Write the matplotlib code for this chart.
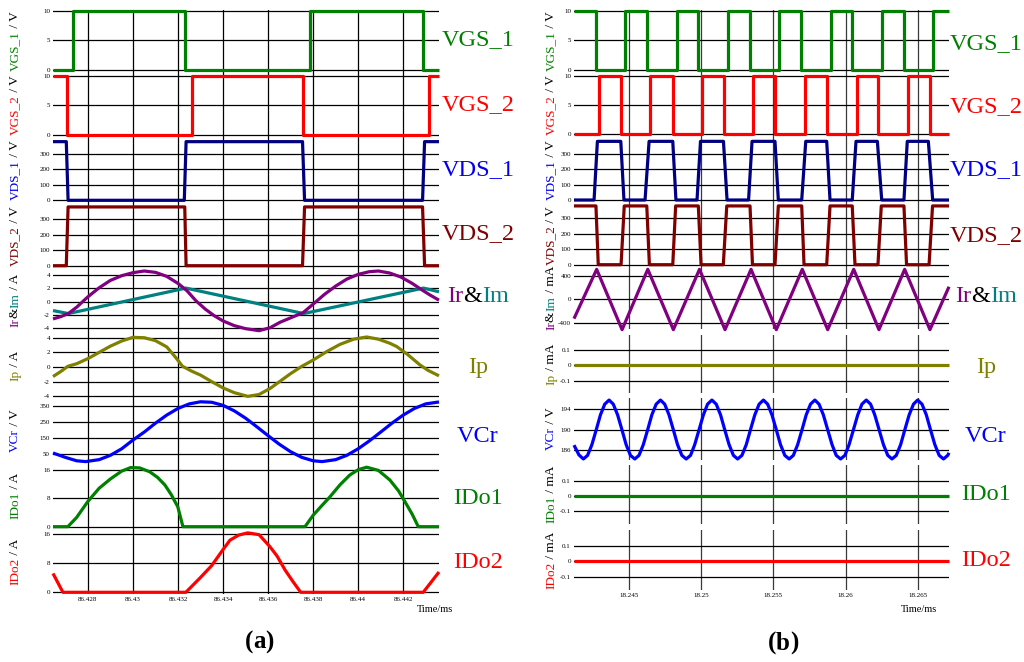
import numpy as np
import matplotlib
matplotlib.use('Agg')
import matplotlib.pyplot as plt
from matplotlib.transforms import IdentityTransform

plt.rcParams['font.family'] = ['Liberation Serif', 'DejaVu Serif']
plt.rcParams['axes.unicode_minus'] = False

W, H = 1024, 662

# ------------------------------------------------------------------
# Panel (a) data  (time in microseconds, axis shown in ms)
# ------------------------------------------------------------------
a_xlim_us = (86426.45, 86443.59)
a_xticks_us = [86428, 86430, 86432, 86434, 86436, 86438, 86440, 86442]
a_xticklabels = ['86.428', '86.43', '86.432', '86.434', '86.436', '86.438', '86.44', '86.442']

a_vgs1_t = [86426.45, 86427.33, 86427.33, 86432.31, 86432.31, 86437.86, 86437.86, 86442.86, 86442.86, 86443.59]
a_vgs1_v = [0, 0, 10, 10, 0, 0, 10, 10, 0, 0]
a_vgs2_t = [86426.45, 86427.05, 86427.05, 86432.62, 86432.62, 86437.53, 86437.53, 86443.16, 86443.16, 86443.59]
a_vgs2_v = [10, 10, 0, 0, 10, 10, 0, 0, 10, 10]
a_vds1_t = [86426.45, 86427.04, 86427.12, 86432.28, 86432.36, 86437.53, 86437.62, 86442.86, 86442.95, 86443.59]
a_vds1_v = [380, 380, 0, 0, 380, 380, 0, 0, 380, 380]
a_vds2_t = [86426.45, 86427.04, 86427.12, 86432.30, 86432.36, 86437.53, 86437.62, 86442.86, 86442.95, 86443.59]
a_vds2_v = [0, 0, 380, 380, 0, 0, 380, 380, 0, 0]

a_ir_t = [86426.45, 86426.8, 86427.13, 86427.5, 86428.0, 86428.5, 86429.0, 86429.5, 86430.0, 86430.5,
          86431.0, 86431.5, 86432.0, 86432.4, 86432.8, 86433.2, 86433.6, 86434.0, 86434.5, 86435.0,
          86435.6, 86436.1, 86436.53, 86437.1, 86437.56, 86438.0, 86438.5, 86439.0, 86439.5, 86440.0,
          86440.5, 86440.9, 86441.4, 86441.9, 86442.4, 86442.8, 86443.2, 86443.59]
a_ir_v = [-2.6, -2.25, -1.8, -0.85, 0.7, 2.05, 3.15, 3.85, 4.3, 4.55,
          4.35, 3.75, 2.7, 1.6, 0.1, -1.1, -2.1, -2.9, -3.6, -4.05,
          -4.35, -3.9, -3.1, -2.3, -1.65, -0.4, 1.05, 2.3, 3.35, 4.05,
          4.45, 4.55, 4.25, 3.65, 2.7, 1.8, 0.95, 0.2]
a_im_t = [86426.45, 86427.13, 86432.35, 86437.58, 86442.9, 86443.59]
a_im_v = [-1.35, -1.8, 2.0, -1.8, 2.0, 1.45]

a_ip_t = [86426.45, 86426.8, 86427.11, 86427.5, 86428.0, 86428.5, 86429.0, 86429.5, 86430.0, 86430.5,
          86431.0, 86431.5, 86431.9, 86432.2, 86432.6, 86433.0, 86433.5, 86434.0, 86434.5, 86435.1,
          86435.6, 86436.1, 86436.53, 86437.0, 86437.49, 86438.0, 86438.6, 86439.2, 86439.8, 86440.38,
          86440.9, 86441.4, 86441.71, 86442.2, 86442.74, 86443.1, 86443.59]
a_ip_v = [-1.3, -0.6, 0.1, 0.45, 1.15, 2.0, 2.85, 3.55, 4.05, 4.0,
          3.6, 2.75, 1.3, 0.1, -0.55, -1.1, -2.0, -2.85, -3.5, -4.0,
          -3.75, -2.9, -1.95, -0.9, 0.08, 0.95, 2.1, 3.1, 3.8, 4.1,
          3.8, 3.25, 2.8, 1.7, 0.3, -0.45, -1.2]

a_vcr_t = [86426.45, 86427.0, 86427.5, 86427.9, 86428.5, 86429.0, 86429.5, 86430.0, 86430.5, 86431.0,
           86431.5, 86432.0, 86432.5, 86433.0, 86433.5, 86434.0, 86434.5, 86435.0, 86435.5, 86436.0,
           86436.5, 86437.0, 86437.5, 86438.0, 86438.4, 86439.0, 86439.5, 86440.0, 86440.5, 86441.0,
           86441.5, 86442.0, 86442.5, 86443.0, 86443.59]
a_vcr_v = [58, 31, 10, 5, 17, 44, 84, 138, 187, 242,
           292, 333, 361, 374, 371, 352, 318, 273, 220, 165,
           112, 66, 31, 10, 5, 17, 44, 84, 133, 187,
           242, 292, 333, 361, 373]

a_ido1_t = [86426.45, 86427.11, 86427.5, 86428.0, 86428.5, 86429.0, 86429.5, 86429.9, 86430.3, 86430.75,
            86431.1, 86431.42, 86431.7, 86431.99, 86432.22, 86437.64, 86438.0, 86438.4, 86438.75, 86439.2,
            86439.63, 86440.0, 86440.38, 86440.9, 86441.41, 86441.8, 86442.08, 86442.4, 86442.67, 86443.59]
a_ido1_v = [0, 0, 2.6, 7.1, 10.8, 13.4, 15.6, 16.6, 16.5, 15.4,
            13.8, 11.7, 9.0, 5.6, 0, 0, 3.2, 6.0, 8.4, 11.8,
            14.5, 16.0, 16.7, 15.8, 13.1, 10.0, 7.0, 3.5, 0, 0]

a_ido2_t = [86426.45, 86426.89, 86432.35, 86432.97, 86433.5, 86433.99, 86434.31, 86434.7, 86435.1, 86435.6,
            86436.08, 86436.4, 86436.75, 86437.1, 86437.45, 86442.89, 86443.59]
a_ido2_v = [5.2, 0, 0, 3.9, 7.4, 11.7, 14.4, 15.8, 16.4, 15.9,
            12.6, 10.0, 6.2, 3.0, 0, 0, 5.6]

# ------------------------------------------------------------------
# Panel (b) data  (time in microseconds, axis shown in ms)
# ------------------------------------------------------------------
b_xlim_us = (18241.19, 18267.16)
b_xticks_us = [18245, 18250, 18255, 18260, 18265]
b_xticklabels = ['18.245', '18.25', '18.255', '18.26', '18.265']

b_vgs1_t = [18241.19, 18242.71, 18242.71, 18244.72, 18244.72, 18246.23, 18246.23, 18248.30, 18248.30,
            18249.80, 18249.80, 18251.88, 18251.88, 18253.38, 18253.38, 18255.39, 18255.39, 18256.91,
            18256.91, 18258.99, 18258.99, 18260.46, 18260.46, 18262.50, 18262.50, 18264.04, 18264.04,
            18266.07, 18266.07, 18267.16]
b_vgs1_v = [10, 10, 0, 0, 10, 10, 0, 0, 10, 10, 0, 0, 10, 10, 0, 0, 10, 10, 0, 0, 10, 10, 0, 0,
            10, 10, 0, 0, 10, 10]
b_vgs2_t = [18241.19, 18242.92, 18242.92, 18244.43, 18244.43, 18246.48, 18246.48, 18248.07, 18248.07,
            18250.03, 18250.03, 18251.58, 18251.58, 18253.59, 18253.59, 18255.11, 18255.11, 18257.19,
            18257.19, 18258.69, 18258.69, 18260.77, 18260.77, 18262.26, 18262.26, 18264.34, 18264.34,
            18265.84, 18265.84, 18267.16]
b_vgs2_v = [0, 0, 10, 10, 0, 0, 10, 10, 0, 0, 10, 10, 0, 0, 10, 10, 0, 0, 10, 10, 0, 0, 10, 10,
            0, 0, 10, 10, 0, 0]
b_vds1_t = [18241.19, 18242.58, 18242.81, 18244.43, 18244.65, 18246.11, 18246.39, 18248.03, 18248.25,
            18249.71, 18249.95, 18251.54, 18251.79, 18253.28, 18253.52, 18255.11, 18255.34, 18256.96,
            18257.24, 18258.69, 18258.92, 18260.46, 18260.72, 18262.20, 18262.50, 18264.04, 18264.27,
            18265.73, 18266.03, 18267.16]
b_vds1_v = [0, 0, 380, 380, 0, 0, 380, 380, 0, 0, 380, 380, 0, 0, 380, 380, 0, 0, 380, 380,
            0, 0, 380, 380, 0, 0, 380, 380, 0, 0]
b_vds2_t = [18241.19, 18242.71, 18242.87, 18244.45, 18244.67, 18246.23, 18246.41, 18248.03, 18248.23,
            18249.80, 18249.99, 18251.53, 18251.77, 18253.38, 18253.55, 18255.11, 18255.34, 18256.96,
            18257.12, 18258.69, 18258.92, 18260.46, 18260.65, 18262.24, 18262.47, 18264.04, 18264.22,
            18265.78, 18266.02, 18267.16]
b_vds2_v = [380, 380, 0, 0, 380, 380, 0, 0, 380, 380, 0, 0, 380, 380, 0, 0, 380, 380, 0, 0,
            380, 380, 0, 0, 380, 380, 0, 0, 380, 380]

b_ir_t = [18241.19, 18242.76, 18244.52, 18246.30, 18248.07, 18249.88, 18251.65, 18253.45,
          18255.20, 18257.00, 18258.76, 18260.56, 18262.31, 18264.09, 18265.84, 18267.16]
b_ir_v = [-330, 520, -520, 520, -520, 520, -520, 520, -520, 520, -520, 520, -520, 520, -520, 220]

b_ip_t = [18241.19, 18267.16]
b_ip_v = [0, 0]
b_ido1_t = [18241.19, 18267.16]
b_ido1_v = [0, 0]
b_ido2_t = [18241.19, 18267.16]
b_ido2_v = [0, 0]

b_vcr_t = [18241.19, 18241.53,
           18241.84, 18242.13, 18242.43, 18242.73, 18243.02, 18243.32, 18243.62, 18243.91, 18244.21, 18244.51, 18244.80, 18245.10,
           18245.40, 18245.69, 18245.99, 18246.29, 18246.58, 18246.88, 18247.18, 18247.47, 18247.77, 18248.07, 18248.36, 18248.66,
           18248.96, 18249.26, 18249.55, 18249.85, 18250.15, 18250.44, 18250.74, 18251.04, 18251.34, 18251.63, 18251.93, 18252.23,
           18252.52, 18252.82, 18253.12, 18253.41, 18253.71, 18254.01, 18254.31, 18254.60, 18254.90, 18255.20, 18255.49, 18255.79,
           18256.09, 18256.38, 18256.68, 18256.98, 18257.27, 18257.57, 18257.87, 18258.16, 18258.46, 18258.76, 18259.06, 18259.35,
           18259.65, 18259.95, 18260.24, 18260.54, 18260.84, 18261.13, 18261.43, 18261.73, 18262.02, 18262.32, 18262.62, 18262.92,
           18263.21, 18263.51, 18263.81, 18264.10, 18264.40, 18264.70, 18264.99, 18265.29, 18265.59, 18265.88, 18266.18, 18266.48,
           18266.78, 18267.07, 18267.16]
b_vcr_v = [187.0, 185.1,
           184.3, 185.0, 187.1, 190.0, 192.9, 195.0, 195.8, 195.0, 192.9, 190.0, 187.1, 185.0,
           184.3, 185.0, 187.1, 190.0, 192.9, 195.0, 195.8, 195.0, 192.9, 190.0, 187.1, 185.0,
           184.3, 185.0, 187.1, 190.0, 192.9, 195.0, 195.8, 195.0, 192.9, 190.0, 187.1, 185.0,
           184.3, 185.0, 187.1, 190.0, 192.9, 195.0, 195.8, 195.0, 192.9, 190.0, 187.1, 185.0,
           184.3, 185.0, 187.1, 190.0, 192.9, 195.0, 195.8, 195.0, 192.9, 190.0, 187.1, 185.0,
           184.3, 185.0, 187.1, 190.0, 192.9, 195.0, 195.8, 195.0, 192.9, 190.0, 187.1, 185.0,
           184.3, 185.0, 187.1, 190.0, 192.9, 195.0, 195.8, 195.0, 192.9, 190.0, 187.1, 185.0,
           184.3, 185.0, 185.5]

# ------------------------------------------------------------------
# Styling
# ------------------------------------------------------------------
C_GREEN = '#008000'
C_RED = '#ff0000'
C_NAVY = '#000080'
C_BLUE = '#0000ff'
C_MAROON = '#800000'
C_PURPLE = '#800080'
C_TEAL = '#008080'
C_OLIVE = '#808000'
LW = 2.3
SERIF = ['Liberation Serif', 'DejaVu Serif']

fig = plt.figure(figsize=(W / 100, H / 100), dpi=100)
fig.patch.set_facecolor('white')


def add_ax(x0, x1, y0, y1):
    return fig.add_axes([x0 / W, 1 - y1 / H, (x1 - x0) / W, (y1 - y0) / H])


def style_ax(ax, xlim_us, xticks_us, ylim, yticks, yticklabels, xticklabels=None, gridcolor='black'):
    ax.set_xlim(xlim_us[0] / 1000, xlim_us[1] / 1000)
    ax.set_ylim(*ylim)
    ax.set_xticks([t / 1000 for t in xticks_us])
    ax.set_yticks(yticks)
    ax.set_yticklabels(yticklabels)
    if xticklabels is None:
        ax.set_xticklabels([])
    else:
        ax.set_xticklabels(xticklabels)
    for s in ax.spines.values():
        s.set_visible(False)
    ax.patch.set_alpha(0)
    ax.set_axisbelow(True)
    ax.grid(True, axis='y', color='black', lw=0.9)
    ax.grid(True, axis='x', color=gridcolor, lw=0.9)
    ax.tick_params(length=0, labelsize=5, pad=2.2)
    for lab in ax.get_xticklabels() + ax.get_yticklabels():
        lab.set_family(SERIF)


def trace(ax, t_us, v, color):
    ax.plot(np.asarray(t_us) / 1000, v, color=color, lw=LW, clip_on=False,
            solid_joinstyle='round', solid_capstyle='butt', zorder=3)


renderer = fig.canvas.get_renderer()


def multi_text(parts, x_px, y_px, size, rotation=0, weight='normal'):
    objs, sizes = [], []
    for s, c in parts:
        t = fig.text(0, 0, s, fontsize=size, color=c, rotation=rotation, family=SERIF,
                     weight=weight, transform=IdentityTransform(), ha='left', va='bottom')
        bb = t.get_window_extent(renderer)
        sizes.append(bb.width if rotation == 0 else bb.height)
        objs.append(t)
    total = sum(sizes)
    yd = H - y_px
    if rotation == 0:
        pos = x_px - total / 2
        for t, s in zip(objs, sizes):
            t.set_position((pos, yd))
            t.set_va('center')
            pos += s
    else:
        pos = yd - total / 2
        for t, s in zip(objs, sizes):
            t.set_position((x_px, pos))
            t.set_ha('center')
            t.set_va('bottom')
            pos += s


# ------------------------------------------------------------------
# Panel (a)
# ------------------------------------------------------------------
AX0, AX1 = 53, 439
a_spans = [(10, 72.5), (72.5, 138), (138, 203), (203, 269), (269, 332), (332, 400),
           (400, 462), (462, 530), (530, 594)]
a_ylims = [(-0.47, 10.12), (-0.51, 10.59), (-17.5, 403.7), (-21.3, 405.4), (-4.55, 4.85),
           (-4.5, 4.78), (2.5, 385), (-0.93, 18.16), (-0.47, 17.19)]
a_yticks = [[0, 5, 10], [0, 5, 10], [0, 100, 200, 300], [0, 100, 200, 300],
            [-4, -2, 0, 2, 4], [-4, -2, 0, 2, 4], [50, 150, 250, 350], [0, 8, 16], [0, 8, 16]]

a_series = [
    [(a_vgs1_t, a_vgs1_v, C_GREEN)],
    [(a_vgs2_t, a_vgs2_v, C_RED)],
    [(a_vds1_t, a_vds1_v, C_NAVY)],
    [(a_vds2_t, a_vds2_v, C_MAROON)],
    [(a_im_t, a_im_v, C_TEAL), (a_ir_t, a_ir_v, C_PURPLE)],
    [(a_ip_t, a_ip_v, C_OLIVE)],
    [(a_vcr_t, a_vcr_v, C_BLUE)],
    [(a_ido1_t, a_ido1_v, C_GREEN)],
    [(a_ido2_t, a_ido2_v, C_RED)],
]

for i in range(9):
    ax = add_ax(AX0, AX1, *a_spans[i])
    style_ax(ax, a_xlim_us, a_xticks_us, a_ylims[i], a_yticks[i],
             [str(v) for v in a_yticks[i]],
             a_xticklabels if i == 8 else None)
    for t, v, c in a_series[i]:
        trace(ax, t, v, c)

# ------------------------------------------------------------------
# Panel (b)
# ------------------------------------------------------------------
BX0, BX1 = 574, 949
b_spans = [(10, 72.5), (72.5, 138), (138, 203), (203, 268), (268, 328.5), (335, 393),
           (398, 460), (465, 524), (530, 590)]
b_ylims = [(-0.47, 10.12), (-0.63, 10.6), (-19.4, 401.7), (-21.3, 398.9), (-500, 543),
           (-0.181, 0.198), (184.1, 196.2), (-0.185, 0.209), (-0.189, 0.207)]
b_yticks = [[0, 5, 10], [0, 5, 10], [0, 100, 200, 300], [0, 100, 200, 300],
            [-400, 0, 400], [-0.1, 0, 0.1], [186, 190, 194], [-0.1, 0, 0.1], [-0.1, 0, 0.1]]
b_ytickl = [['0', '5', '10'], ['0', '5', '10'], ['0', '100', '200', '300'], ['0', '100', '200', '300'],
            ['-400', '0', '400'], ['-0.1', '0', '0.1'], ['186', '190', '194'],
            ['-0.1', '0', '0.1'], ['-0.1', '0', '0.1']]

b_series = [
    [(b_vgs1_t, b_vgs1_v, C_GREEN)],
    [(b_vgs2_t, b_vgs2_v, C_RED)],
    [(b_vds1_t, b_vds1_v, C_NAVY)],
    [(b_vds2_t, b_vds2_v, C_MAROON)],
    [(b_ir_t, b_ir_v, C_PURPLE)],
    [(b_ip_t, b_ip_v, C_OLIVE)],
    [(b_vcr_t, b_vcr_v, C_BLUE)],
    [(b_ido1_t, b_ido1_v, C_GREEN)],
    [(b_ido2_t, b_ido2_v, C_RED)],
]

for i in range(9):
    ax = add_ax(BX0, BX1, *b_spans[i])
    style_ax(ax, b_xlim_us, b_xticks_us, b_ylims[i], b_yticks[i], b_ytickl[i],
             b_xticklabels if i == 8 else None, gridcolor='#3a3a3a')
    for t, v, c in b_series[i]:
        trace(ax, t, v, c)

# ------------------------------------------------------------------
# Labels
# ------------------------------------------------------------------
C_LBL_BLUE = '#0000ee'
name_parts = [
    [('VGS_1', C_GREEN)], [('VGS_2', C_RED)], [('VDS_1', C_LBL_BLUE)], [('VDS_2', C_MAROON)],
    [('Ir', C_PURPLE), ('&', 'black'), ('Im', C_TEAL)], [('Ip', C_OLIVE)], [('VCr', C_BLUE)],
    [('IDo1', C_GREEN)], [('IDo2', C_RED)],
]
a_units = [' / V', ' / V', ' / V', ' / V', ' / A', ' / A', ' / V', ' / A', ' / A']
b_units = [' / V', ' / V', ' / V', ' / V', ' / mA', ' / mA', ' / V', ' / mA', ' / mA']

a_name_y = [40, 105, 170, 234, 297, 367, 436, 498, 563]
b_name_y = [44, 107, 170, 236, 297, 367, 437, 495, 561]

for i in range(9):
    multi_text(name_parts[i], 478, a_name_y[i], 17.5)
    multi_text(name_parts[i], 986, b_name_y[i], 17.5)
    ya = (a_spans[i][0] + a_spans[i][1]) / 2
    yb = (b_spans[i][0] + b_spans[i][1]) / 2
    multi_text(name_parts[i] + [(a_units[i], 'black')], 15, ya, 9.5, rotation=90)
    multi_text(name_parts[i] + [(b_units[i], 'black')], 551, yb, 9.5, rotation=90)

fig.text(435 / W, 1 - 609 / H, 'Time/ms', fontsize=7.5, family=SERIF, ha='center', va='center')
fig.text(919 / W, 1 - 609 / H, 'Time/ms', fontsize=7.5, family=SERIF, ha='center', va='center')

multi_text([('(', 'black'), ('a', 'black'), (')', 'black')], 259, 642, 18, weight='bold')
multi_text([('(', 'black'), ('b', 'black'), (')', 'black')], 783, 643, 18, weight='bold')

fig.savefig('out.png', dpi=100, facecolor='white')
